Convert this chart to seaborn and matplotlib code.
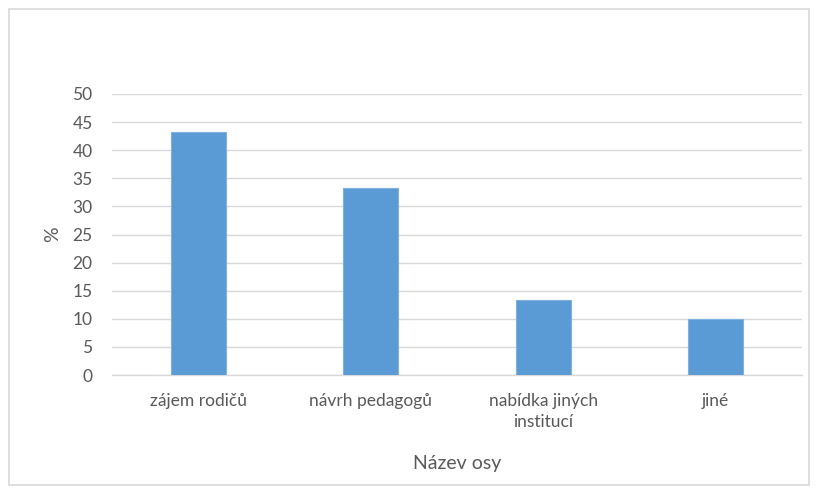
import matplotlib
matplotlib.use('Agg')
import matplotlib.pyplot as plt
import pandas as pd
import seaborn as sns
from matplotlib.patches import Rectangle

# Data
CATEGORIES = ['zájem rodičů', 'návrh pedagogů', 'nabídka jiných\ninstitucí', 'jiné']
VALUES     = [43.3, 33.3, 13.3, 10.0]
Y_TICKS    = list(range(0, 55, 5))

BAR_COLOR  = '#5B9BD5'
GRID_COLOR = '#D9D9D9'
TEXT_COLOR = '#595959'

df = pd.DataFrame({'kategorie': CATEGORIES, 'hodnota': VALUES})

sns.set_style('white')
plt.rcParams['font.family'] = ['Lato', 'DejaVu Sans']

fig = plt.figure(figsize=(8.17, 4.92), dpi=100)
ax  = fig.add_axes([112 / 817, 1 - 375 / 492, 690 / 817, 281 / 492])

sns.barplot(data=df, x='kategorie', y='hodnota', ax=ax,
            color=BAR_COLOR, saturation=1, width=0.32,
            edgecolor='#7FB0DE', linewidth=0.8, zorder=3)

ax.set_ylim(0, 50)
ax.set_yticks(Y_TICKS)
ax.set_xlim(-0.5, len(CATEGORIES) - 0.5)
ax.yaxis.grid(True, color=GRID_COLOR, linewidth=1, zorder=0)
ax.set_axisbelow(True)

for side in ['left', 'right', 'top']:
    ax.spines[side].set_visible(False)
ax.spines['bottom'].set_color(GRID_COLOR)
ax.spines['bottom'].set_linewidth(1)

ax.tick_params(axis='both', length=0, colors=TEXT_COLOR, labelsize=12.5)
ax.tick_params(axis='y', pad=14)
ax.tick_params(axis='x', pad=13)
for lbl in ax.get_xticklabels():
    lbl.set_linespacing(1.35)

ax.set_xlabel('Název osy', color=TEXT_COLOR, fontsize=14, labelpad=18)
ax.set_ylabel('%', color=TEXT_COLOR, fontsize=14, labelpad=8)

# Outer chart border
fig.patches.append(Rectangle((9 / 817, 1 - 485 / 492), 800 / 817, 476 / 492,
                             transform=fig.transFigure, fill=False,
                             edgecolor=GRID_COLOR, linewidth=1.2))

fig.savefig('out.png', dpi=100)
